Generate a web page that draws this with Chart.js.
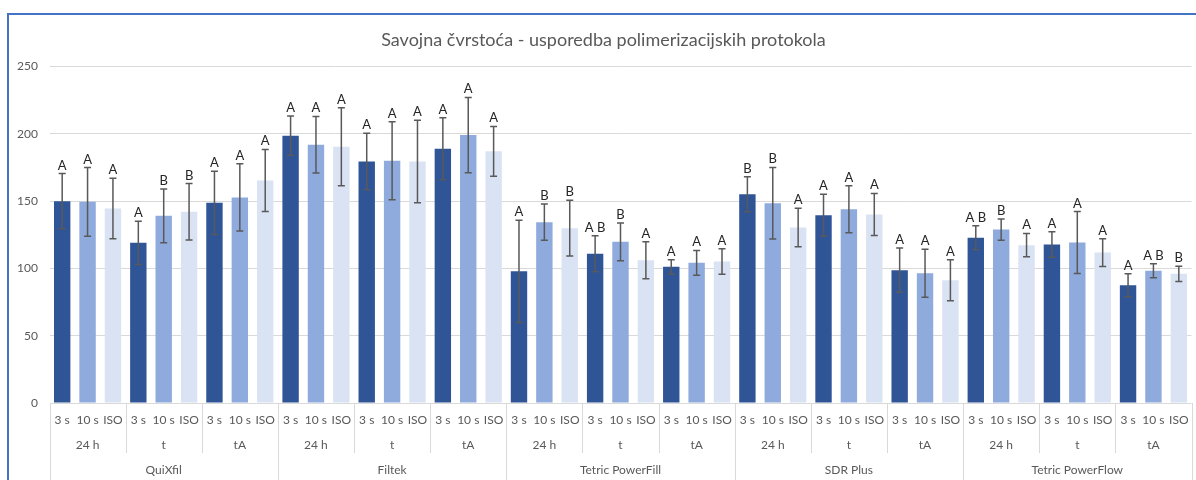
<!DOCTYPE html>
<html>
<head>
<meta charset="utf-8">
<script src="https://cdn.jsdelivr.net/npm/chart.js@4"></script>
<style>
  body { margin: 0; background: #fff; }
  canvas { display: block; }
</style>
</head>
<body>
<canvas id="chart" width="1196" height="480"></canvas>
<script>
const materials = ["QuiXfil", "Filtek", "Tetric PowerFill", "SDR Plus", "Tetric PowerFlow"];
const conditions = ["24 h", "t", "tA"];
const seriesNames = ["3 s", "10 s", "ISO"];

// srednje vrijednosti i SD po grupi (materijal x uvjet)
const mean3s  = [150, 119, 148.8, 198.7, 179.5, 189, 97.9, 110.9, 101.2, 155.2, 139.6, 98.7, 122.8, 117.8, 87.5];
const sd3s    = [20.5, 16, 23.5, 14.5, 21, 23, 38, 13.4, 5.3, 13, 15.5, 16.4, 9, 9.4, 8.6];
const mean10s = [149.5, 139.1, 152.8, 192, 180, 199.1, 134.4, 119.8, 104.2, 148.5, 144, 96.4, 128.9, 119.3, 98.2];
const sd10s   = [25.5, 20, 25, 21, 29, 28, 13.5, 14, 9.2, 26.6, 17.4, 17.8, 7.9, 23, 5.2];
const meanIso = [144.6, 142.1, 165.4, 190.5, 179.5, 187, 129.9, 106.1, 105.1, 130.4, 140.1, 91.2, 117.3, 111.8, 96];
const sdIso   = [22.5, 21, 23, 29, 30.6, 18.5, 20.7, 13.8, 9.5, 14.3, 15.6, 15.2, 8.7, 10.3, 5.7];

// oznake statisticke znacajnosti
const letters3s  = ["A", "A", "A", "A", "A", "A", "A", "A B", "A", "B", "A", "A", "A B", "A", "A"];
const letters10s = ["A", "B", "A", "A", "A", "A", "B", "B", "A", "B", "A", "A", "B", "A", "A B"];
const lettersIso = ["A", "B", "A", "A", "A", "A", "B", "A", "A", "A", "A", "A", "A", "A", "B"];

const yTicks = [0, 50, 100, 150, 200, 250];

const labels = [];
materials.forEach(m => conditions.forEach(c => labels.push([c, m])));

const textColor = "#595959";
const lineGrey = "#D9D9D9";
const fontFamily = "Lato, 'Open Sans', sans-serif";

const errorBars = {
  id: "errorBars",
  afterDatasetsDraw(chart) {
    const ctx = chart.ctx;
    const y = chart.scales.y;
    ctx.save();
    chart.data.datasets.forEach((ds, i) => {
      const meta = chart.getDatasetMeta(i);
      meta.data.forEach((bar, j) => {
        const top = y.getPixelForValue(ds.data[j] + ds.sd[j]);
        const bot = y.getPixelForValue(ds.data[j] - ds.sd[j]);
        ctx.strokeStyle = "#595959";
        ctx.lineWidth = 1.5;
        ctx.beginPath();
        ctx.moveTo(bar.x, top); ctx.lineTo(bar.x, bot);
        ctx.moveTo(bar.x - 3.5, top); ctx.lineTo(bar.x + 3.5, top);
        ctx.moveTo(bar.x - 3.5, bot); ctx.lineTo(bar.x + 3.5, bot);
        ctx.stroke();
        ctx.fillStyle = "#262626";
        ctx.font = "13px " + fontFamily;
        ctx.textAlign = "center";
        ctx.textBaseline = "alphabetic";
        ctx.fillText(ds.letters[j], bar.x, top - 4);
      });
    });
    ctx.restore();
  }
};

const categoryAxis = {
  id: "categoryAxis",
  afterDraw(chart) {
    const ctx = chart.ctx;
    const x = chart.scales.x;
    const area = chart.chartArea;
    const base = area.bottom;
    const step = x.getPixelForValue(1) - x.getPixelForValue(0);
    ctx.save();
    ctx.font = "12px " + fontFamily;
    ctx.fillStyle = textColor;
    ctx.textAlign = "center";
    ctx.textBaseline = "middle";
    // prvi red: 3 s / 10 s / ISO ispod svakog stupca
    chart.data.datasets.forEach((ds, i) => {
      chart.getDatasetMeta(i).data.forEach(bar => {
        ctx.fillText(ds.label, bar.x, base + 17);
      });
    });
    // drugi red: uvjeti
    labels.forEach((l, k) => {
      ctx.fillText(l[0], x.getPixelForValue(k), base + 42);
    });
    // treci red: materijali
    materials.forEach((m, k) => {
      const c = (x.getPixelForValue(k * 3) + x.getPixelForValue(k * 3 + 2)) / 2;
      ctx.fillText(m, c, base + 67);
    });
    // razdjelnice
    ctx.strokeStyle = lineGrey;
    ctx.lineWidth = 1;
    ctx.beginPath();
    for (let k = 0; k <= labels.length; k++) {
      const px = Math.round(x.getPixelForValue(k) - step / 2) + 0.5;
      const end = (k % 3 === 0) ? chart.height : base + 50;
      ctx.moveTo(px, base); ctx.lineTo(px, end);
    }
    ctx.stroke();
    // okvir odabranog grafikona
    ctx.strokeStyle = "#4472C4";
    ctx.lineWidth = 2;
    ctx.beginPath();
    ctx.moveTo(8, chart.height);
    ctx.lineTo(8, 14);
    ctx.lineTo(chart.width, 14);
    ctx.stroke();
    ctx.restore();
  }
};

new Chart(document.getElementById("chart"), {
  type: "bar",
  data: {
    labels: labels,
    datasets: [
      { label: seriesNames[0], data: mean3s,  sd: sd3s,  letters: letters3s,  backgroundColor: "#2F5597" },
      { label: seriesNames[1], data: mean10s, sd: sd10s, letters: letters10s, backgroundColor: "#8FAADC" },
      { label: seriesNames[2], data: meanIso, sd: sdIso, letters: lettersIso, backgroundColor: "#DAE3F3" }
    ]
  },
  options: {
    responsive: false,
    animation: false,
    layout: { padding: { left: 15.5, right: 4.5, top: 0, bottom: 0 } },
    datasets: { bar: { categoryPercentage: 1, barPercentage: 0.646 } },
    plugins: {
      legend: { display: false },
      tooltip: { enabled: false },
      title: {
        display: true,
        text: "Savojna čvrstoća - usporedba polimerizacijskih protokola",
        color: textColor,
        font: { family: fontFamily, size: 18, weight: "normal" },
        padding: { top: 29, bottom: 16 }
      }
    },
    scales: {
      x: {
        grid: { display: false },
        border: { display: false },
        ticks: { display: false },
        afterFit(scale) { scale.height = 77; }
      },
      y: {
        min: 0,
        max: 250,
        afterBuildTicks(scale) { scale.ticks = yTicks.map(v => ({ value: v })); },
        grid: { color: lineGrey, drawTicks: false },
        border: { display: false },
        ticks: { color: textColor, padding: 11.5, font: { family: fontFamily, size: 12 } },
        afterFit(scale) { scale.width = 34; }
      }
    }
  },
  plugins: [errorBars, categoryAxis]
});
</script>
</body>
</html>
